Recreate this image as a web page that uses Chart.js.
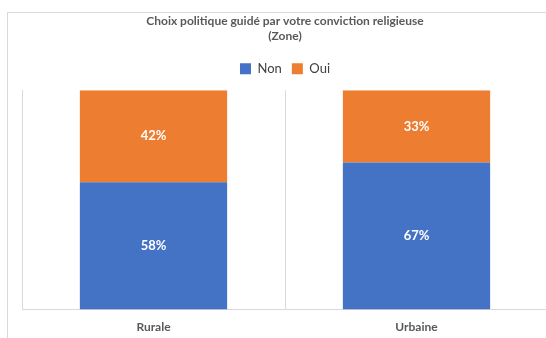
<!DOCTYPE html>
<html><head><meta charset="utf-8">
<script src="https://cdn.jsdelivr.net/npm/chart.js@4/dist/chart.umd.min.js"></script>
<style>
html,body{margin:0;padding:0;background:#fff;overflow:hidden;width:546px;height:338px;}
#frame{position:absolute;left:7px;top:12px;width:560px;height:340px;border:1px solid #d9d9d9;box-sizing:border-box;}
#wrap{position:absolute;left:0;top:0;width:558px;height:336px;}
</style></head>
<body>
<div id="frame"><div id="wrap"><canvas id="c"></canvas></div></div>
<script>
const categories = ["Rurale", "Urbaine"];
const seriesNames = ["Non", "Oui"];
const nonValues = [58, 67];
const ouiValues = [42, 33];
const titleLines = ["Choix politique guidé par votre conviction religieuse", "(Zone)"];

const labelPlugin = {
  id: 'segLabels',
  afterDatasetsDraw(chart) {
    const ctx = chart.ctx;
    ctx.save();
    ctx.fillStyle = '#ffffff';
    ctx.font = 'bold 13px Lato';
    ctx.textAlign = 'center';
    ctx.textBaseline = 'middle';
    chart.data.datasets.forEach((ds, i) => {
      const meta = chart.getDatasetMeta(i);
      meta.data.forEach((bar, j) => {
        const p = bar.getProps(['x', 'y', 'base'], true);
        ctx.fillText(ds.data[j] + '%', p.x, (p.y + p.base) / 2);
      });
    });
    ctx.restore();
  }
};

const legendGap = {
  id: 'legendGap',
  afterInit(chart) {
    const lg = chart.legend;
    if (!lg) return;
    const orig = lg.fit;
    lg.fit = function () { orig.call(this); this.height += 5; };
  }
};

new Chart(document.getElementById('c'), {
  type: 'bar',
  data: {
    labels: categories,
    datasets: [
      { label: seriesNames[0], data: nonValues, backgroundColor: '#4472C4' },
      { label: seriesNames[1], data: ouiValues, backgroundColor: '#ED7D31' }
    ]
  },
  options: {
    responsive: true,
    maintainAspectRatio: false,
    animation: false,
    layout: { padding: { left: 14, right: 18, top: 0, bottom: 5 } },
    datasets: { bar: { categoryPercentage: 1, barPercentage: 0.56 } },
    plugins: {
      title: {
        display: true,
        text: titleLines,
        color: '#595959',
        font: { family: 'Lato', size: 12, weight: 'bold', lineHeight: 1.3 },
        padding: { top: 0, bottom: 8 }
      },
      legend: {
        display: true,
        labels: {
          boxWidth: 11, boxHeight: 11, color: '#404040',
          font: { family: 'Lato', size: 13 },
          padding: 10
        }
      },
      tooltip: { enabled: false }
    },
    scales: {
      x: {
        stacked: true,
        grid: { display: true, color: '#d9d9d9', drawTicks: false, offset: true },
        border: { display: true, color: '#d9d9d9' },
        ticks: { color: '#595959', font: { family: 'Lato', size: 12, weight: 'bold' }, padding: 10 }
      },
      y: {
        stacked: true, min: 0, max: 100, display: false
      }
    }
  },
  plugins: [labelPlugin, legendGap]
});
</script>
</body></html>
